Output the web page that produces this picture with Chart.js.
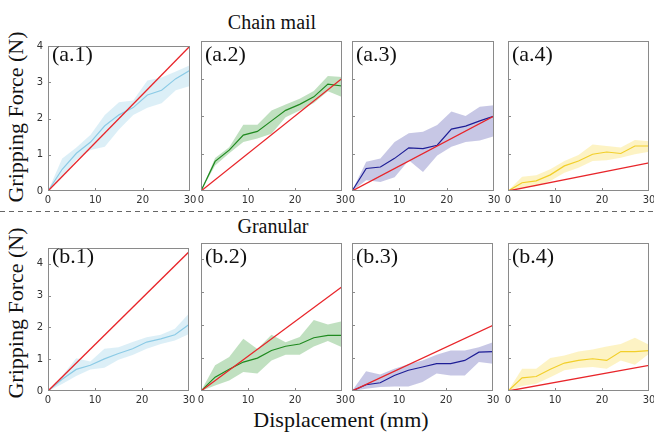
<!DOCTYPE html>
<html>
<head>
<meta charset="utf-8">
<script src="https://cdn.jsdelivr.net/npm/chart.js@4/dist/chart.umd.min.js"></script>
<style>
  html, body { margin:0; padding:0; background:#fff; }
  #wrap { position:relative; width:654px; height:433px; overflow:hidden; background:#fff; }
  canvas { position:absolute; }
  .serif { position:absolute; font-family:"Liberation Serif","Times New Roman",serif; color:#111; white-space:nowrap; }
  .plabel { font-size:22px; line-height:22px; }
</style>
</head>
<body>
<div id="wrap">
  <div class="serif" style="left:172px;width:200px;text-align:center;top:12px;font-size:20px;line-height:20px;">Chain mail</div>
  <div class="serif" style="left:173px;width:200px;text-align:center;top:216px;font-size:20px;line-height:20px;">Granular</div>
  <div class="serif" style="left:191px;width:300px;text-align:center;top:409px;font-size:22px;line-height:22px;">Displacement (mm)</div>
  <div class="serif" style="left:-84px;top:106px;width:200px;height:22px;text-align:center;font-size:22px;line-height:22px;transform:rotate(-90deg);">Gripping Force (N)</div>
  <div class="serif" style="left:-84px;top:302px;width:200px;height:22px;text-align:center;font-size:22px;line-height:22px;transform:rotate(-90deg);">Gripping Force (N)</div>
  <div style="position:absolute;left:0;top:211px;width:654px;height:1px;background:repeating-linear-gradient(to right,#666 0 5px,transparent 5px 9px);"></div>
</div>
<script>
// ---------- data ----------
const displacement = [0, 3, 6, 9, 12, 15, 18, 21, 24, 27, 30];
const xTicks = [0, 10, 20, 30];

// Chain mail
const a1Mean  = [0, 0.60, 1.04, 1.35, 1.80, 2.10, 2.30, 2.65, 2.78, 3.10, 3.33];
const a1Upper = [0, 0.90, 1.20, 1.55, 2.10, 2.45, 2.50, 3.05, 3.13, 3.30, 3.47];
const a1Lower = [0, 0.37, 0.86, 1.13, 1.22, 1.70, 2.10, 2.30, 2.42, 2.78, 2.90];

const a2Mean  = [0, 0.79, 1.09, 1.49, 1.59, 1.87, 2.15, 2.31, 2.51, 2.85, 2.80];
const a2Upper = [0, 0.88, 1.17, 1.77, 1.77, 2.15, 2.31, 2.46, 2.67, 3.07, 3.04];
const a2Lower = [0, 0.68, 1.01, 1.31, 1.40, 1.53, 1.97, 2.15, 2.35, 2.66, 2.51];

const a3Mean  = [0, 0.60, 0.64, 0.87, 1.15, 1.13, 1.22, 1.65, 1.73, 1.87, 2.00];
const a3Upper = [0, 0.78, 0.87, 1.31, 1.54, 1.58, 1.76, 2.12, 2.00, 2.25, 2.29];
const a3Lower = [0, 0.29, 0.24, 0.37, 0.82, 0.51, 0.95, 1.18, 1.31, 1.35, 1.46];

const a4Mean  = [0, 0.22, 0.27, 0.43, 0.67, 0.80, 0.98, 1.04, 1.00, 1.20, 1.20];
const a4Upper = [0, 0.38, 0.42, 0.58, 0.80, 0.96, 1.24, 1.20, 1.16, 1.36, 1.33];
const a4Lower = [0, 0.09, 0.13, 0.27, 0.49, 0.62, 0.80, 0.82, 0.89, 0.98, 1.05];

// Granular
const b1Mean  = [0, 0.37, 0.68, 0.81, 1.01, 1.18, 1.33, 1.54, 1.64, 1.77, 2.09];
const b1Upper = [0, 0.47, 1.03, 0.93, 1.33, 1.38, 1.54, 1.69, 1.77, 1.96, 2.44];
const b1Lower = [0, 0.22, 0.47, 0.68, 0.73, 0.98, 1.13, 1.33, 1.48, 1.59, 1.79];

const b2Mean  = [0, 0.42, 0.66, 0.88, 1.00, 1.23, 1.36, 1.43, 1.62, 1.69, 1.69];
const b2Upper = [0, 0.78, 1.03, 1.59, 1.28, 1.71, 1.48, 1.64, 2.16, 2.02, 2.12];
const b2Lower = [0, 0.17, 0.32, 0.58, 0.53, 0.93, 1.10, 1.10, 1.35, 1.52, 1.33];

const b3Mean  = [0, 0.19, 0.25, 0.47, 0.63, 0.73, 0.83, 0.83, 0.93, 1.18, 1.20];
const b3Upper = [0, 0.60, 0.50, 0.68, 0.81, 0.93, 1.10, 1.23, 1.23, 1.33, 1.48];
const b3Lower = [0, 0.07, 0.12, 0.14, 0.14, 0.27, 0.53, 0.47, 0.47, 0.88, 0.83];

const b4Mean  = [0, 0.40, 0.44, 0.66, 0.85, 0.93, 0.98, 0.93, 1.20, 1.20, 1.23];
const b4Upper = [0, 0.68, 0.68, 1.00, 1.08, 1.20, 1.26, 1.35, 1.43, 1.62, 1.41];
const b4Lower = [0, 0.15, 0.22, 0.42, 0.63, 0.70, 0.73, 0.68, 0.93, 0.80, 1.13];

// Linear reference (red) lines: values at displacement 0 and 30
const fitX = [0, 30];
const a1Fit = [0, 4.00];
const a2Fit = [0, 3.00];
const a3Fit = [0, 2.00];
const a4Fit = [0, 0.75];
const b1Fit = [0, 4.38];
const b2Fit = [0, 3.17];
const b3Fit = [0, 2.00];
const b4Fit = [0, 0.78];

const panelLabels = ['(a.1)','(a.2)','(a.3)','(a.4)','(b.1)','(b.2)','(b.3)','(b.4)'];
const yMaxTop = 4, yMaxBottom = 4.5;

// ---------- styles / layout ----------
const palette = [
  { line:'#8ccbe6', band:'rgba(140,203,230,0.30)' },
  { line:'#1f8a1f', band:'rgba(60,160,60,0.32)' },
  { line:'#1e1e96', band:'rgba(70,70,170,0.30)' },
  { line:'#f2cf2a', band:'rgba(248,215,60,0.30)' }
];
const redColor = '#e8252a';

const panels = [
  { mean:a1Mean, up:a1Upper, lo:a1Lower, fit:a1Fit, c:0, ymax:yMaxTop, left:48,  top:41,  w:142, h:150, showY:true },
  { mean:a2Mean, up:a2Upper, lo:a2Lower, fit:a2Fit, c:1, ymax:yMaxTop, left:201, top:41,  w:141, h:150, showY:false },
  { mean:a3Mean, up:a3Upper, lo:a3Lower, fit:a3Fit, c:2, ymax:yMaxTop, left:352, top:41,  w:142, h:150, showY:false },
  { mean:a4Mean, up:a4Upper, lo:a4Lower, fit:a4Fit, c:3, ymax:yMaxTop, left:508, top:41,  w:141, h:150, showY:false },
  { mean:b1Mean, up:b1Upper, lo:b1Lower, fit:b1Fit, c:0, ymax:yMaxBottom, left:48,  top:243, w:141, h:148, showY:true },
  { mean:b2Mean, up:b2Upper, lo:b2Lower, fit:b2Fit, c:1, ymax:yMaxBottom, left:201, top:243, w:141, h:148, showY:false },
  { mean:b3Mean, up:b3Upper, lo:b3Lower, fit:b3Fit, c:2, ymax:yMaxBottom, left:352, top:243, w:141, h:148, showY:false },
  { mean:b4Mean, up:b4Upper, lo:b4Lower, fit:b4Fit, c:3, ymax:yMaxBottom, left:508, top:243, w:141, h:148, showY:false }
];

const PADL = 24, PADT = 6, PADR = 10, PADB = 16;

const framePlugin = {
  id:'frame',
  afterDraw(chart) {
    const ctx = chart.ctx, a = chart.chartArea;
    const xs = chart.scales.x, ys = chart.scales.y;
    ctx.save();
    ctx.strokeStyle = '#8a8a8a';
    ctx.lineWidth = 1;
    ctx.strokeRect(a.left + 0.5, a.top + 0.5, a.right - a.left - 1, a.bottom - a.top - 1);
    ctx.beginPath();
    xs.ticks.forEach(t => {
      if (t.value > xs.min && t.value < xs.max) {
        const px = Math.round(xs.getPixelForValue(t.value)) + 0.5;
        ctx.moveTo(px, a.bottom); ctx.lineTo(px, a.bottom - 3);
      }
    });
    ys.ticks.forEach(t => {
      if (t.value > ys.min && t.value < ys.max) {
        const py = Math.round(ys.getPixelForValue(t.value)) + 0.5;
        ctx.moveTo(a.left, py); ctx.lineTo(a.left + 3, py);
      }
    });
    ctx.stroke();
    ctx.restore();
  }
};

const wrap = document.getElementById('wrap');
const pts = arr => displacement.map((x, i) => ({ x, y: arr[i] }));

panels.forEach((p, idx) => {
  const cv = document.createElement('canvas');
  const W = p.w + PADL + PADR, H = p.h + PADT + PADB;
  cv.width = W; cv.height = H;
  cv.style.width = W + 'px'; cv.style.height = H + 'px';
  cv.style.left = (p.left - PADL) + 'px';
  cv.style.top = (p.top - PADT) + 'px';
  wrap.appendChild(cv);

  const lab = document.createElement('div');
  lab.className = 'serif plabel';
  lab.textContent = panelLabels[idx];
  lab.style.left = (p.left + 4) + 'px';
  lab.style.top = (p.top + 2) + 'px';
  wrap.appendChild(lab);

  const col = palette[p.c];
  new Chart(cv, {
    type:'line',
    data:{
      datasets:[
        { data:pts(p.up), borderWidth:0, borderColor:'rgba(0,0,0,0)', backgroundColor:col.band, fill:'+1', pointRadius:0, tension:0, order:3 },
        { data:pts(p.lo), borderWidth:0, borderColor:'rgba(0,0,0,0)', fill:false, pointRadius:0, tension:0, order:4 },
        { data:pts(p.mean), borderWidth:1.2, borderColor:col.line, fill:false, pointRadius:0, tension:0, order:1 },
        { data:fitX.map((x, i) => ({ x, y:p.fit[i] })), borderWidth:1.3, borderColor:redColor, fill:false, pointRadius:0, tension:0, order:0 }
      ]
    },
    options:{
      responsive:false,
      animation:false,
      devicePixelRatio:1,
      layout:{ padding:{ left:0, top:PADT, right:PADR, bottom:0 } },
      plugins:{ legend:{ display:false }, tooltip:{ enabled:false }, title:{ display:false } },
      scales:{
        x:{
          type:'linear', min:0, max:30,
          afterBuildTicks:s => { s.ticks = xTicks.map(v => ({ value:v })); },
          afterFit:s => { s.height = PADB; },
          grid:{ display:false, drawTicks:false },
          border:{ display:false },
          ticks:{ padding:3, maxRotation:0, autoSkip:false, color:'#333', font:{ family:'DejaVu Sans', size:10 } }
        },
        y:{
          type:'linear', min:0, max:p.ymax,
          afterBuildTicks:s => { s.ticks = s.ticks.filter(t => Number.isInteger(t.value)); },
          afterFit:s => { s.width = PADL; },
          grid:{ display:false, drawTicks:false },
          border:{ display:false },
          ticks:{ display:p.showY, stepSize:1, padding:5, color:'#333', font:{ family:'DejaVu Sans', size:10 } }
        }
      }
    },
    plugins:[framePlugin]
  });
});
</script>
</body>
</html>
